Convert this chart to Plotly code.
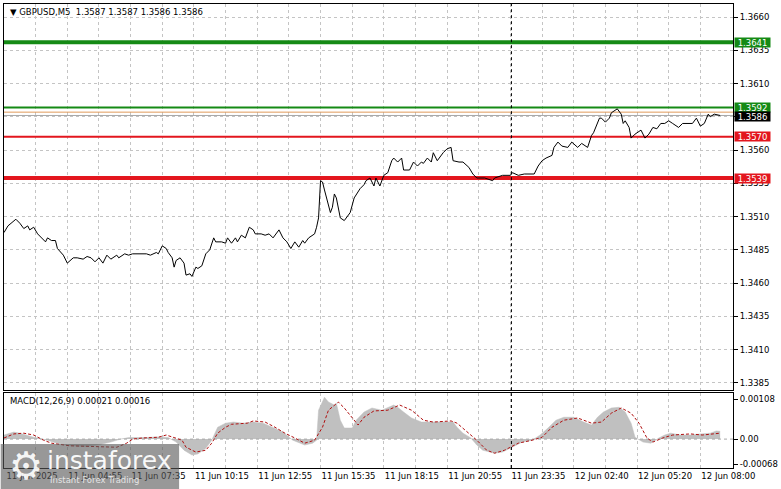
import plotly.graph_objects as go

# ---------------- data ----------------
price_bars = [0,2,6,8,10,12,13,15,17,19,21,22,24,26,27,30,32,35,37,40,42,44,46,48,50,52,54,57,58,61,63,65,68,72,74,77,78,80,82,83,85,86,87,89,91,92,94,95,97,98,100,102,104,106,107,110,112,113,115,117,118,120,122,124,126,127,130,132,134,136,139,141,143,145,147,149,151,152,154,157,158,159,160,161,162,165,166,167,168,170,172,175,177,180,182,183,185,187,188,190,192,194,196,197,199,201,202,205,207,209,211,212,214,216,217,219,222,224,226,227,230,232,235,237,239,243,247,248,252,256,257,260,263,268,270,272,274,277,278,280,282,285,287,290,292,295,297,298,301,302,304,306,307,310,312,313,314,316,317,319,322,324,326,328,330,332,334,336,338,341,343,346,348,350,352,354,356,357,359,362]
price_close = [1.3498,1.3503,1.3508,1.3505,1.3501,1.3503,1.3500,1.3502,1.3497,1.3494,1.3491,1.3494,1.3492,1.3492,1.3486,1.3481,1.3475,1.3479,1.3479,1.3478,1.3480,1.3479,1.3476,1.3479,1.3475,1.3481,1.3478,1.3481,1.3479,1.3482,1.3481,1.3482,1.3482,1.3482,1.3481,1.3483,1.3482,1.3488,1.3486,1.3483,1.3479,1.3472,1.3477,1.3479,1.3475,1.3466,1.3467,1.3465,1.3472,1.3471,1.3473,1.3482,1.3485,1.3494,1.3491,1.3491,1.3490,1.3494,1.3490,1.3494,1.3491,1.3496,1.3494,1.3502,1.3500,1.3497,1.3497,1.3496,1.3497,1.3494,1.3500,1.3494,1.3491,1.3486,1.3491,1.3487,1.3492,1.3490,1.3494,1.3497,1.3502,1.3509,1.3537,1.3536,1.3530,1.3513,1.3517,1.3527,1.3524,1.3509,1.3507,1.3513,1.3524,1.3531,1.3534,1.3537,1.3539,1.3533,1.3539,1.3533,1.3541,1.3543,1.3552,1.3554,1.3551,1.3554,1.3545,1.3545,1.3551,1.3548,1.3551,1.3550,1.3554,1.3551,1.3558,1.3552,1.3558,1.3561,1.3562,1.3552,1.3551,1.3551,1.3547,1.3542,1.3539,1.3539,1.3537,1.3539,1.3541,1.3541,1.3543,1.3541,1.3542,1.3542,1.3548,1.3552,1.3554,1.3556,1.3562,1.3566,1.3563,1.3562,1.3566,1.3562,1.3565,1.3562,1.3571,1.3573,1.3584,1.3584,1.3581,1.3584,1.3588,1.3591,1.3587,1.3580,1.3582,1.3577,1.3569,1.3572,1.3575,1.3569,1.3572,1.3577,1.3576,1.3580,1.3580,1.3582,1.3580,1.3577,1.3580,1.3580,1.3580,1.3584,1.3578,1.3580,1.3587,1.3585,1.3587,1.3586]

macd_bars = [0,5,8,15,22,26,33,41,48,54,59,63,71,78,83,87,91,95,98,102,105,108,112,116,121,126,131,136,141,146,150,152,156,158,159,162,164,167,168,170,172,176,178,182,186,191,197,199,202,206,211,216,221,227,229,232,236,239,242,246,248,252,257,262,267,271,275,279,283,288,293,297,300,303,307,311,314,317,319,323,327,331,334,337,342,347,352,357,360,362]
macd_main = [0.00011,0.00019,0.00016,0.00005,-0.00003,-0.0001,-0.00018,-0.0002,-0.00015,-0.00008,0.0,0.00004,0.00004,0.00006,0.00004,-0.00008,-0.0003,-0.00043,-0.0004,-0.00025,-0.00003,0.00032,0.00043,0.00046,0.00043,0.00046,0.00043,0.00032,0.00019,-0.00003,-0.00011,-0.00016,-0.00011,-0.00003,0.00078,0.00113,0.001,0.00092,0.00097,0.00051,0.0003,0.0003,0.00051,0.00073,0.00084,0.00078,0.00092,0.00086,0.00073,0.00057,0.00046,0.00046,0.00046,0.00046,0.00032,0.00016,0.00003,-0.00016,-0.0003,-0.00035,-0.00038,-0.00035,-0.00022,-0.00008,-0.00003,0.00011,0.0003,0.00051,0.00059,0.00059,0.00046,0.00038,0.00059,0.00073,0.00084,0.00086,0.00073,0.00043,0.00005,-0.00008,-0.00011,0.00003,0.00011,0.00016,0.00011,0.00011,0.00014,0.00016,0.00022,0.00021]

signal_bars = [0,5,10,15,20,24,33,44,54,57,62,65,70,78,82,85,90,92,97,102,105,108,112,115,123,126,132,137,142,147,152,157,161,164,169,172,176,179,182,187,194,200,206,212,217,226,229,234,239,244,248,253,260,267,272,277,283,290,297,302,307,312,317,321,325,328,333,338,347,353,360,362]
signal_vals = [0.00003,0.00014,0.00016,0.00011,-0.00003,-0.00011,-0.00018,-0.0002,-0.0002,-0.00022,-0.00011,0.0,0.00003,0.00005,0.00011,0.00005,-0.00003,-0.00022,-0.00035,-0.0003,-0.00011,0.00016,0.00032,0.0004,0.00043,0.00049,0.00046,0.00032,0.00016,0.00003,-0.00011,-0.00003,0.00032,0.00078,0.001,0.00084,0.00059,0.00038,0.00059,0.00076,0.00078,0.00092,0.00078,0.00051,0.00046,0.00049,0.00043,0.00019,-0.00003,-0.0003,-0.00038,-0.0003,-0.00011,-0.00003,0.00005,0.00032,0.00051,0.00057,0.00043,0.00046,0.0007,0.00084,0.0007,0.00043,0.00003,-0.00008,0.00003,0.00011,0.00014,0.00011,0.00016,0.00016]

time_tick_bars = [0,32,64,96,128,160,192,224,256,288,320,352]
time_tick_labels = ["11 Jun 2025","11 Jun 04:55","11 Jun 07:35","11 Jun 10:15","11 Jun 12:55",
                    "11 Jun 15:35","11 Jun 18:15","11 Jun 20:55","11 Jun 23:35","12 Jun 02:40",
                    "12 Jun 05:20","12 Jun 08:00"]

price_ticks = [1.3385,1.3410,1.3435,1.3460,1.3485,1.3510,1.3535,1.3560,1.3585,1.3610,1.3635,1.3660]
macd_ticks = [0.00108, 0.0, -0.00068]
macd_tick_labels = ["0.00108", "0.00", "-0.00068"]

level_values = [1.3641, 1.3592, 1.3570, 1.3539]
level_labels = ["1.3641", "1.3592", "1.3570", "1.3539"]
bid_price = 1.3586
ask_price = 1.35885
separator_bar = 256.5

title_text = "▼ GBPUSD,M5\u00a0 1.3587 1.3587 1.3586 1.3586"
macd_text = "MACD(12,26,9) 0.00021 0.00016"

# ---------------- styling ----------------
GREEN = "#158a15"
RED = "#e3161e"
level_colors = [GREEN, GREEN, RED, RED]
level_widths = [4, 2, 2.2, 4]
FONT = "DejaVu Sans"
FS = 8.5
GRID = "#c4c4c4"
x_range = [0, 368.5]

fig = go.Figure()

# horizontal price levels (drawn under the price line, over the grid)
fig.add_trace(go.Scatter(x=x_range, y=[ask_price, ask_price], mode="lines",
                         line=dict(color="#e09a5a", width=1), xaxis="x", yaxis="y",
                         showlegend=False, hoverinfo="skip"))
fig.add_trace(go.Scatter(x=x_range, y=[bid_price, bid_price], mode="lines",
                         line=dict(color="#a8a8a8", width=1), xaxis="x", yaxis="y",
                         showlegend=False, hoverinfo="skip"))
for v, c, w in zip(level_values, level_colors, level_widths):
    fig.add_trace(go.Scatter(x=x_range, y=[v, v], mode="lines", line=dict(color=c, width=w),
                             xaxis="x", yaxis="y", showlegend=False, hoverinfo="skip"))

fig.add_trace(go.Scatter(x=price_bars, y=price_close, mode="lines",
                         line=dict(color="black", width=1), xaxis="x", yaxis="y",
                         showlegend=False, hoverinfo="skip"))
fig.add_trace(go.Scatter(x=macd_bars, y=macd_main, mode="lines", fill="tozeroy",
                         fillcolor="#c0c0c0", line=dict(color="#c0c0c0", width=0.5),
                         xaxis="x2", yaxis="y2", showlegend=False, hoverinfo="skip"))
fig.add_trace(go.Scatter(x=x_range, y=[0, 0], mode="lines",
                         line=dict(color="#a8a8a8", width=1, dash="3px,3px"),
                         xaxis="x2", yaxis="y2", showlegend=False, hoverinfo="skip"))
fig.add_trace(go.Scatter(x=signal_bars, y=signal_vals, mode="lines",
                         line=dict(color="#b01010", width=1, dash="3px,2px"),
                         xaxis="x2", yaxis="y2", showlegend=False, hoverinfo="skip"))

shapes = []
for ax_x, ax_y in (("x", "y domain"), ("x2", "y2 domain")):
    shapes.append(dict(type="line", xref=ax_x, yref=ax_y, x0=separator_bar, x1=separator_bar,
                       y0=0, y1=1, line=dict(color="black", width=1, dash="3px,3px"),
                       layer="above"))
# watermark box
shapes.append(dict(type="rect", xref="paper", yref="paper", x0=-0.0045, x1=0.2402,
                   y0=-0.05, y1=0.0516, fillcolor="rgba(88,88,88,0.62)",
                   line=dict(width=0), layer="above"))

annotations = []
for v, t, c in zip(level_values, level_labels, level_colors):
    annotations.append(dict(xref="paper", yref="y", x=1, y=v, xanchor="left", xshift=1,
                            text=t, showarrow=False, bgcolor=c, width=35, height=9,
                            borderpad=0, font=dict(family=FONT, size=FS, color="white")))
annotations.append(dict(xref="paper", yref="y", x=1, y=bid_price, xanchor="left", xshift=1,
                        yshift=-1.5, text=f"{bid_price:.4f}", showarrow=False, bgcolor="black",
                        width=35, height=9, borderpad=0,
                        font=dict(family=FONT, size=FS, color="white")))
annotations.append(dict(xref="paper", yref="paper", x=0.0054, y=0.983, xanchor="left",
                        yanchor="middle", text=title_text, showarrow=False,
                        font=dict(family=FONT, size=FS, color="black")))
annotations.append(dict(xref="paper", yref="paper", x=0.0054, y=0.144, xanchor="left",
                        yanchor="middle", text=macd_text, showarrow=False,
                        font=dict(family=FONT, size=FS, color="black")))
# watermark texts
annotations.append(dict(xref="paper", yref="paper", x=0.030, y=0.004, xanchor="center",
                        yanchor="middle", text="⚙", showarrow=False,
                        font=dict(family=FONT, size=38, color="rgba(255,255,255,0.92)")))
annotations.append(dict(xref="paper", yref="paper", x=0.056, y=0.017, xanchor="left",
                        yanchor="middle", text="instaforex", showarrow=False,
                        font=dict(family=FONT, size=25, color="rgba(255,255,255,0.95)")))
annotations.append(dict(xref="paper", yref="paper", x=0.060, y=-0.026, xanchor="left",
                        yanchor="middle", text="Instant Forex Trading", showarrow=False,
                        font=dict(family=FONT, size=8.5, color="rgba(235,235,235,0.95)")))

grid_bars = list(range(0, 369, 16))
grid_text = [time_tick_labels[time_tick_bars.index(b)] if b in time_tick_bars else "" for b in grid_bars]

common_x = dict(range=x_range, showline=True, mirror=True, linecolor="black", linewidth=1,
                showgrid=True, gridcolor=GRID, griddash="3px,3px", gridwidth=1, zeroline=False,
                tickmode="array", tickvals=grid_bars, ticks="")

fig.update_layout(
    width=781, height=489,
    margin=dict(l=3, r=41, t=3, b=21),
    paper_bgcolor="white", plot_bgcolor="white",
    font=dict(family=FONT, size=FS, color="black"),
    showlegend=False,
    xaxis=dict(domain=[0, 1], anchor="y", showticklabels=False, **common_x),
    xaxis2=dict(domain=[0, 1], anchor="y2", matches="x", ticktext=grid_text,
                ticklabelshift=28,
                tickfont=dict(family=FONT, size=FS, color="black"), **common_x),
    yaxis=dict(domain=[0.1677, 1], anchor="x", side="right", range=[1.33795, 1.36698],
               tickmode="array", tickvals=price_ticks, ticktext=[f"{v:.4f}" for v in price_ticks],
               ticks="outside", ticklen=4, tickcolor="black", showline=True, mirror=True,
               linecolor="black", linewidth=1, showgrid=True, gridcolor=GRID,
               griddash="3px,3px", zeroline=False,
               tickfont=dict(family=FONT, size=FS, color="black")),
    yaxis2=dict(domain=[0, 0.1613], anchor="x2", side="right", range=[-0.00078, 0.00124],
                tickmode="array", tickvals=macd_ticks, ticktext=macd_tick_labels,
                ticks="outside", ticklen=4, tickcolor="black", showline=True, mirror=True,
                linecolor="black", linewidth=1, showgrid=False, zeroline=False,
                tickfont=dict(family=FONT, size=FS, color="black")),
    shapes=shapes,
    annotations=annotations,
)

fig.write_html("out.html", config={"displayModeBar": False},
               post_script="document.body.style.margin='0';document.body.style.overflow='hidden';")
